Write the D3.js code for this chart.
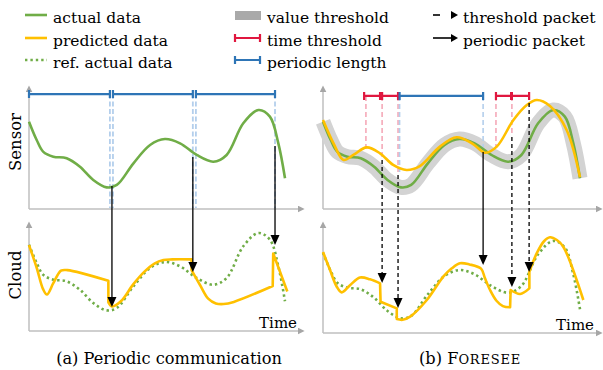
<!DOCTYPE html>
<html>
<head>
<meta charset="utf-8">
<script src="https://cdn.jsdelivr.net/npm/d3@7"></script>
<style>
	body { margin: 0; background: #fff; }
	svg text { font-family: "DejaVu Serif", serif; fill: #000; }
</style>
</head>
<body>
<svg id="chart" width="603" height="370"></svg>
<script>
// values are [time, value], time 0..100 across the curve, value 0..100 up the plot
let actualData = [[0,73.4],[3,58],[5.6,48],[9.5,44],[14.7,42.6],[19.9,35.5],[25.1,24.4],[30.3,18.2],[34.3,20.2],
	[40.8,38.4],[47.3,53.8],[53.1,58.8],[59,55.2],[65.5,45.4],[72,39.7],[77.2,45.4],[83.7,72],[89.6,83.2],
	[94.1,77.6],[97.4,55.2],[100,25.8]];

// (a) what the cloud holds between periodic packets, one array per piece
let cloudPredA = [
	[[0,73],[3,54],[5.5,36],[7,31.5],[9.5,41],[12.5,51.5],[15,52],[31,43]],
	[[31,25],[32.5,21.5],[36,26],[40.7,40],[45,50.5],[49,57.5],[52.5,60.5],[56,61],[63.5,61]],
	[[63.5,52],[66.8,39.5],[70,28],[73,24],[76,23.5],[80,25.3],[95.2,38.7]],
	[[95.4,66],[100.9,34]]
];

// (b) model prediction at the sensor
let sensorPredB = [[0,74.8],[4.1,55.2],[8,41.2],[11.8,45.4],[17,51.8],[22.2,46.8],[27.3,37],[32.5,32.8],
	[37.7,36.1],[45.5,52.4],[52,60.3],[58.4,54.6],[63.1,47.3],[67.6,52.4],[74.1,74.8],[79.3,87.4],
	[83.2,91.6],[88.3,86.6],[94.8,66.4],[100,26.6]];

// (b) prediction at the cloud, one array per piece
let cloudPredB = [
	[[0,74],[2.7,59],[5.3,45],[7.3,40],[10.5,46],[14.4,52.5],[18.3,51],[22.2,47.6]],
	[[22.4,32.2],[28.7,26.6]],
	[[28.7,17.6],[31,17],[33.9,19.6],[40.4,33.6],[46.8,53.2],[50,60],[53.3,64.5],[57,63.5],[61.5,60],
		[63,52],[65,42],[67.5,33],[70,28.5],[72.8,27.5]],
	[[73,42],[76.7,38.7],[80.3,43.4]],
	[[80.3,57.4],[83.2,73],[86,83],[88.3,86.3],[91,84],[93.5,78.4],[101.3,33.6]]
];

let periodsA = [[0,31.6],[32.8,64],[65.2,96.1]];
let periodGuidesA = [31.6, 32.8, 64, 65.2, 96.1];
let periodsB = [[29.8,62.3]];
let timeThresholdsB = [[16,22.2],[23,29.2],[67.3,73.2],[73.5,80.2]];
// [time, value where the guide stops]
let pinkGuidesB = [[16.7,49.6],[23,41.2],[29.2,31],[67.3,52],[73.5,62]];
let blueGuidesB = [[29.8,31],[62.3,49.6]];

let packetsA = [
	{t: 32.4, from: 19.3, to: 21, kind: "periodic"},
	{t: 64, from: 43.7, to: 50.4, kind: "periodic"},
	{t: 96.1, from: 53, to: 73.1, kind: "periodic"}
];
let packetsB = [
	{t: 23, from: 41.2, to: 47.9, kind: "threshold"},
	{t: 29.2, from: 28.6, to: 26.9, kind: "threshold"},
	{t: 62.3, from: 47.9, to: 63, kind: "periodic"},
	{t: 73.5, from: 60.5, to: 44.5, kind: "threshold"},
	{t: 80.2, from: 89, to: 57.1, kind: "threshold"}
];

let legendLeft = ["actual data", "predicted data", "ref. actual data"];
let legendMid = ["value threshold", "time threshold", "periodic length"];
let legendRight = ["threshold packet", "periodic packet"];

let green = "#70ad47", yellow = "#ffc000", red = "#e0173f", blue = "#2e75b6",
	lightBlue = "#b4cfec", pink = "#f5a9b8", axisGrey = "#bfbfbf";

let svg = d3.select("#chart");

// axis arrowhead
svg.append("defs").append("marker")
	.attr("id", "axisHead")
	.attr("viewBox", "0 0 10 10")
	.attr("refX", 2).attr("refY", 5)
	.attr("markerUnits", "userSpaceOnUse")
	.attr("markerWidth", 7).attr("markerHeight", 7)
	.attr("orient", "auto")
	.append("path").attr("d", "M0,0L10,5L0,10Z").attr("fill", "#a6a6a6");

function makeScales(x0, x1, sensorBottom, cloudBottom) {
	return {
		x: d3.scaleLinear().domain([0, 100]).range([x0, x1]),
		ys: d3.scaleLinear().domain([0, 100]).range([sensorBottom, sensorBottom - 119]),
		yc: d3.scaleLinear().domain([0, 100]).range([cloudBottom, cloudBottom - 119])
	};
}

function drawAxes(ax, y0, yTop, xEnd) {
	svg.append("path")
		.attr("d", `M${ax},${y0}L${ax},${yTop}`)
		.attr("stroke", axisGrey).attr("stroke-width", 1.5)
		.attr("marker-end", "url(#axisHead)");
	svg.append("path")
		.attr("d", `M${ax},${y0}L${xEnd},${y0}`)
		.attr("stroke", axisGrey).attr("stroke-width", 1.5)
		.attr("marker-end", "url(#axisHead)");
}

function smoothLine(x, y) {
	return d3.line().x(d => x(d[0])).y(d => y(d[1])).curve(d3.curveCatmullRom.alpha(0.5));
}

// pieces joined with straight jumps
function piecePath(pieces, x, y) {
	let line = smoothLine(x, y);
	return pieces.map((p, i) => {
		let s = line(p);
		return i ? "L" + s.slice(1) : s;
	}).join("");
}

function rangeBar(g, spans, level, x, y, color, width) {
	spans.forEach(s => {
		let x0 = x(s[0]), x1 = x(s[1]), yy = y(level);
		g.append("path")
			.attr("d", `M${x0},${yy}L${x1},${yy}M${x0},${yy-4}L${x0},${yy+4}M${x1},${yy-4}L${x1},${yy+4}`)
			.attr("stroke", color).attr("stroke-width", width).attr("fill", "none");
	});
}

function drawPacket(p, sc) {
	let xx = sc.x(p.t), y0 = sc.ys(p.from), y1 = sc.yc(p.to);
	svg.append("line")
		.attr("x1", xx).attr("x2", xx)
		.attr("y1", y0).attr("y2", y1 - 8)
		.attr("stroke", "#000").attr("stroke-width", 1.3)
		.attr("stroke-dasharray", p.kind == "threshold" ? "4,3" : null);
	svg.append("path")
		.attr("d", `M${xx-4.5},${y1-10}L${xx+4.5},${y1-10}L${xx},${y1}Z`)
		.attr("fill", "#000");
}

// ---------- (a) periodic communication ----------
let A = makeScales(29, 285, 209, 332);
drawAxes(29, 209, 91, 299);
drawAxes(29, 331, 227, 299);

svg.selectAll(".guideA").data(periodGuidesA).enter()
	.append("line")
	.attr("x1", d => A.x(d)).attr("x2", d => A.x(d))
	.attr("y1", A.ys(96.6)).attr("y2", A.ys(0) - 1)
	.attr("stroke", lightBlue).attr("stroke-width", 1.8)
	.attr("stroke-dasharray", "5,2.5");

rangeBar(svg, periodsA, 96.6, A.x, A.ys, blue, 2.2);

svg.append("path")
	.attr("d", smoothLine(A.x, A.ys)(actualData))
	.attr("fill", "none").attr("stroke", green).attr("stroke-width", 2.6);

svg.append("path")
	.attr("d", smoothLine(A.x, A.yc)(actualData))
	.attr("fill", "none").attr("stroke", green).attr("stroke-width", 2.6)
	.attr("stroke-dasharray", "2.4,3");

svg.append("path")
	.attr("d", piecePath(cloudPredA, A.x, A.yc))
	.attr("fill", "none").attr("stroke", yellow).attr("stroke-width", 2.6)
	.attr("stroke-linejoin", "round");

packetsA.forEach(p => drawPacket(p, A));

// ---------- (b) FORESEE ----------
let B = makeScales(323, 580, 209, 340);
drawAxes(323, 209, 91, 597);
drawAxes(323, 333, 227, 597);

svg.append("path")
	.attr("d", smoothLine(B.x, B.ys)(actualData))
	.attr("fill", "none").attr("stroke", "#d3d3d3").attr("stroke-width", 15);

svg.selectAll(".pinkB").data(pinkGuidesB).enter()
	.append("line")
	.attr("x1", d => B.x(d[0])).attr("x2", d => B.x(d[0]))
	.attr("y1", B.ys(95)).attr("y2", d => B.ys(d[1]))
	.attr("stroke", pink).attr("stroke-width", 1.6)
	.attr("stroke-dasharray", "5,3");

svg.selectAll(".blueB").data(blueGuidesB).enter()
	.append("line")
	.attr("x1", d => B.x(d[0])).attr("x2", d => B.x(d[0]))
	.attr("y1", B.ys(95)).attr("y2", d => B.ys(d[1]))
	.attr("stroke", lightBlue).attr("stroke-width", 1.6)
	.attr("stroke-dasharray", "5,3");

svg.append("path")
	.attr("d", smoothLine(B.x, B.ys)(actualData))
	.attr("fill", "none").attr("stroke", green).attr("stroke-width", 2.6);

svg.append("path")
	.attr("d", smoothLine(B.x, B.ys)(sensorPredB))
	.attr("fill", "none").attr("stroke", yellow).attr("stroke-width", 2.6);

rangeBar(svg, timeThresholdsB, 95, B.x, B.ys, red, 2.2);
rangeBar(svg, periodsB, 95, B.x, B.ys, blue, 2.2);

svg.append("path")
	.attr("d", smoothLine(B.x, B.yc)(actualData))
	.attr("fill", "none").attr("stroke", green).attr("stroke-width", 2.6)
	.attr("stroke-dasharray", "2.4,3");

svg.append("path")
	.attr("d", piecePath(cloudPredB, B.x, B.yc))
	.attr("fill", "none").attr("stroke", yellow).attr("stroke-width", 2.6)
	.attr("stroke-linejoin", "round");

packetsB.forEach(p => drawPacket(p, B));

// ---------- labels ----------
svg.append("text").attr("transform", "translate(21,142) rotate(-90)")
	.attr("text-anchor", "middle").style("font-size", "16.5px").text("Sensor");
svg.append("text").attr("transform", "translate(21,275) rotate(-90)")
	.attr("text-anchor", "middle").style("font-size", "16.5px").text("Cloud");
svg.append("text").attr("x", 297).attr("y", 328).attr("text-anchor", "end")
	.style("font-size", "15px").text("Time");
svg.append("text").attr("x", 594).attr("y", 330).attr("text-anchor", "end")
	.style("font-size", "15px").text("Time");

svg.append("text").attr("x", 169).attr("y", 364).attr("text-anchor", "middle")
	.style("font-size", "16.2px").text("(a) Periodic communication");
let capB = svg.append("text").attr("x", 470).attr("y", 364).attr("text-anchor", "middle")
	.style("font-size", "16.2px");
capB.append("tspan").text("(b) F");
capB.append("tspan").style("font-size", "13px").style("letter-spacing", "0.8px").text("ORESEE");

// ---------- legend ----------
let rowY = [15, 38, 60];
let legend = svg.append("g");

legend.append("line").attr("x1", 25).attr("x2", 47).attr("y1", rowY[0]).attr("y2", rowY[0])
	.attr("stroke", green).attr("stroke-width", 2.6);
legend.append("line").attr("x1", 25).attr("x2", 47).attr("y1", rowY[1]).attr("y2", rowY[1])
	.attr("stroke", yellow).attr("stroke-width", 2.6);
legend.append("line").attr("x1", 25).attr("x2", 47).attr("y1", rowY[2]).attr("y2", rowY[2])
	.attr("stroke", green).attr("stroke-width", 2.6).attr("stroke-dasharray", "2.4,3");
legendLeft.forEach((t, i) => {
	legend.append("text").attr("x", 53).attr("y", rowY[i] + 7.5)
		.style("font-size", "15.5px").text(t);
});

legend.append("rect").attr("x", 235).attr("y", 11).attr("width", 26).attr("height", 9)
	.attr("fill", "#a9a9a9");
legend.append("path")
	.attr("d", `M235,${rowY[1]}L260,${rowY[1]}M235,${rowY[1]-4}L235,${rowY[1]+4}M260,${rowY[1]-4}L260,${rowY[1]+4}`)
	.attr("stroke", red).attr("stroke-width", 2.2);
legend.append("path")
	.attr("d", `M235,${rowY[2]}L260,${rowY[2]}M235,${rowY[2]-4}L235,${rowY[2]+4}M260,${rowY[2]-4}L260,${rowY[2]+4}`)
	.attr("stroke", blue).attr("stroke-width", 2.2);
legendMid.forEach((t, i) => {
	legend.append("text").attr("x", 267).attr("y", rowY[i] + 7.5)
		.style("font-size", "15.5px").text(t);
});

legend.append("line").attr("x1", 433).attr("x2", 440).attr("y1", rowY[0]).attr("y2", rowY[0])
	.attr("stroke", "#000").attr("stroke-width", 1.6);
legend.append("path").attr("d", `M451,${rowY[0]-4}L458,${rowY[0]}L451,${rowY[0]+4}Z`).attr("fill", "#000");
legend.append("line").attr("x1", 433).attr("x2", 452).attr("y1", rowY[1]).attr("y2", rowY[1])
	.attr("stroke", "#000").attr("stroke-width", 1.6);
legend.append("path").attr("d", `M451,${rowY[1]-4}L458,${rowY[1]}L451,${rowY[1]+4}Z`).attr("fill", "#000");
legendRight.forEach((t, i) => {
	legend.append("text").attr("x", 463).attr("y", rowY[i] + 7.5)
		.style("font-size", "15.5px").text(t);
});
</script>
</body>
</html>
